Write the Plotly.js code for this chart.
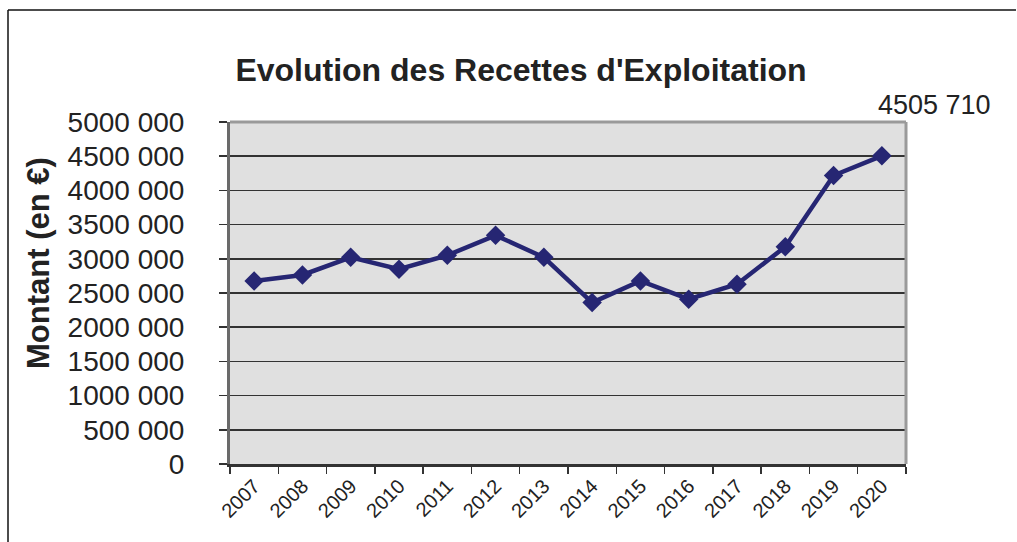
<!DOCTYPE html>
<html>
<head>
<meta charset="utf-8">
<script src="https://cdn.plot.ly/plotly-3.0.1.min.js"></script>
<style>html,body{margin:0;padding:0;background:#fff;}#chart{width:1017px;height:542px;}</style>
</head>
<body>
<div id="chart"></div>
<script>
var years = ['2007','2008','2009','2010','2011','2012','2013','2014','2015','2016','2017','2018','2019','2020'];
var recettes = [2676000, 2764000, 3022000, 2847000, 3051000, 3343000, 3022000, 2360000, 2676000, 2410000, 2628000, 3177000, 4218000, 4505710];
var yTickVals = [0, 500000, 1000000, 1500000, 2000000, 2500000, 3000000, 3500000, 4000000, 4500000, 5000000];
var yTickText = ['0', '500 000', '1000 000', '1500 000', '2000 000', '2500 000', '3000 000', '3500 000', '4000 000', '4500 000', '5000 000'];
var chartTitle = "Evolution des Recettes d'Exploitation";
var yTitle = 'Montant (en €)';
var lastLabel = '4505 710';

var font = 'Liberation Sans, Arial, sans-serif';
var navy = '#262673';

var trace = {
  x: years, y: recettes, type: 'scatter', mode: 'lines+markers',
  line: {color: navy, width: 4.5},
  marker: {symbol: 'diamond', size: 15, color: navy},
  hoverinfo: 'x+y'
};

var L = 230, R = 906, T = 122, B = 464;
function px(x){ return (x - L) / (R - L); }
function py(y){ return (B - y) / (B - T); }

var layout = {
  width: 1017, height: 542,
  margin: {l: L, r: 1017 - R, t: T, b: 542 - B},
  paper_bgcolor: '#ffffff',
  plot_bgcolor: '#e0e0e0',
  showlegend: false,
  font: {family: font, color: '#222'},
  title: {
    text: '<b>' + chartTitle + '</b>',
    font: {family: font, size: 32, color: '#222'},
    xref: 'container', yref: 'container',
    x: 521 / 1017, y: 1 - 70 / 542, xanchor: 'center', yanchor: 'middle'
  },
  xaxis: {
    type: 'category', range: [-0.5, 13.5],
    tickangle: -45, tickfont: {family: font, size: 20, color: '#222'},
    ticks: 'outside', ticklen: 7, tickcolor: '#333', tickwidth: 1.5,
    tickson: 'boundaries',
    showline: true, linecolor: '#333', linewidth: 2.5,
    showgrid: false, zeroline: false, fixedrange: true
  },
  yaxis: {
    range: [0, 5000000],
    tickvals: yTickVals, ticktext: yTickText,
    tickfont: {family: font, size: 28, color: '#222'},
    ticks: 'outside', ticklen: 8, tickcolor: '#333', tickwidth: 1.5,
    ticklabelstandoff: 29,
    showline: true, linecolor: '#6a6a6a', linewidth: 3,
    showgrid: true, gridcolor: '#333', gridwidth: 1.5,
    zeroline: false, fixedrange: true
  },
  shapes: [
    {type: 'line', xref: 'paper', yref: 'paper', x0: 1, x1: 1, y0: 0, y1: 1, line: {color: '#9a9a9a', width: 3}},
    {type: 'line', xref: 'paper', yref: 'paper', x0: 0, x1: 1, y0: 1, y1: 1, line: {color: '#9a9a9a', width: 3}},
    {type: 'line', xref: 'paper', yref: 'paper', x0: px(8), x1: px(8), y0: py(10), y1: py(545), line: {color: '#111', width: 1.5}},
    {type: 'line', xref: 'paper', yref: 'paper', x0: px(8), x1: px(1016), y0: py(10), y1: py(10), line: {color: '#111', width: 1.5}}
  ],
  annotations: [
    {
      text: '<b>' + yTitle + '</b>', xref: 'paper', yref: 'paper',
      x: px(38), y: py(263), textangle: -90, showarrow: false,
      xanchor: 'center', yanchor: 'middle',
      font: {family: font, size: 31, color: '#222'}
    },
    {
      text: lastLabel, xref: 'paper', yref: 'paper',
      x: px(934), y: py(105), showarrow: false,
      xanchor: 'center', yanchor: 'middle',
      font: {family: font, size: 27, color: '#222'}
    }
  ]
};

Plotly.newPlot('chart', [trace], layout, {displayModeBar: false, staticPlot: true});
</script>
</body>
</html>
